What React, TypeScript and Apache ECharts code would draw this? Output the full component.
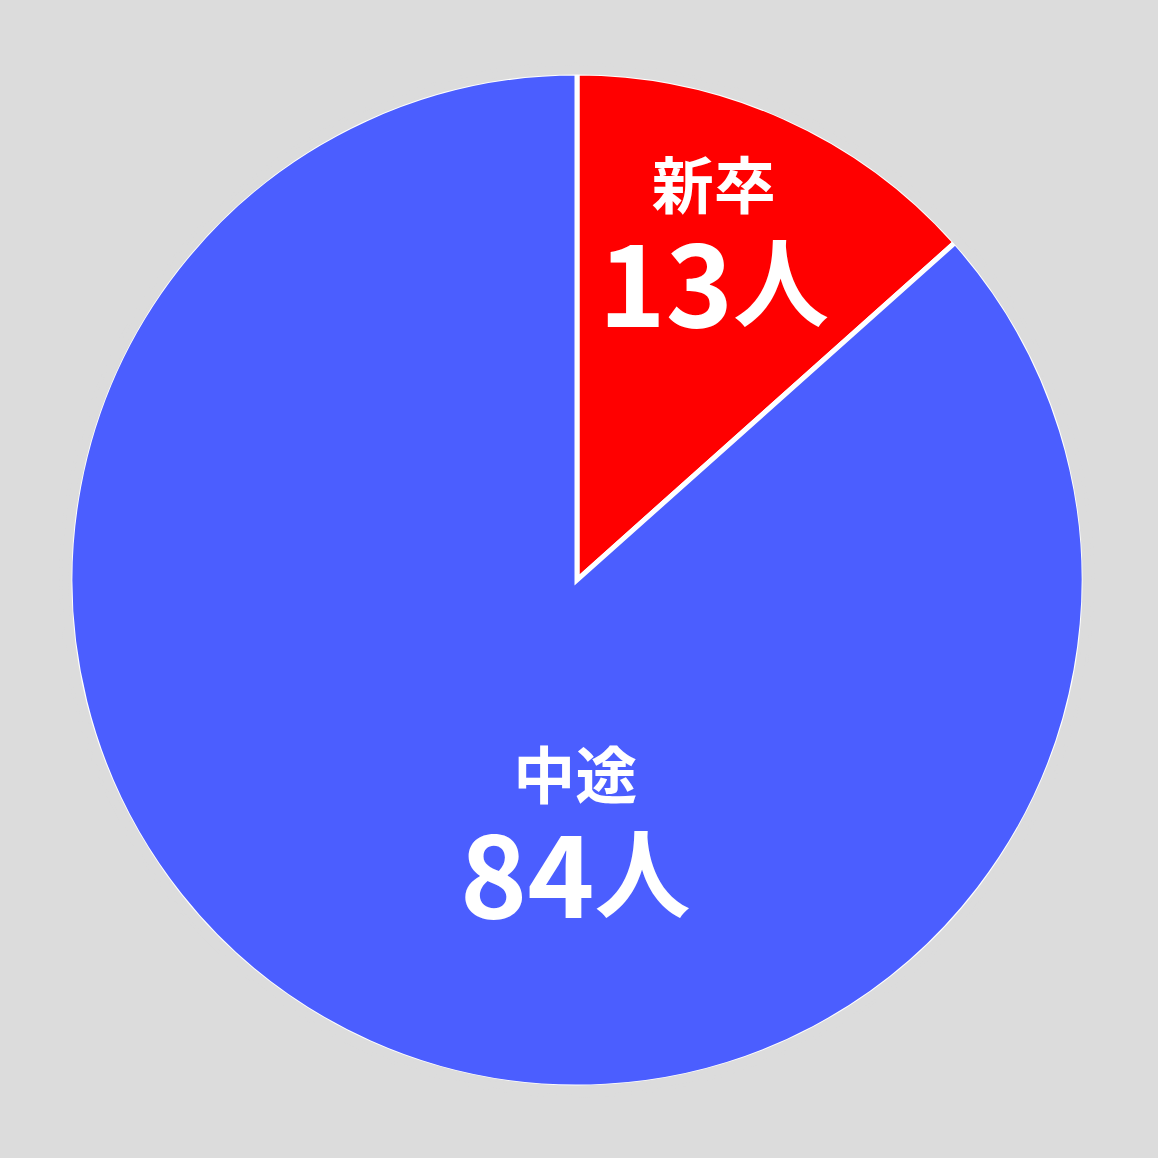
import React, { useEffect, useRef } from "react";
import * as echarts from "echarts";

// 採用内訳
const categories = ["新卒", "中途"];
const values = [13, 84];
const unit = "人";
const colors = ["#ff0000", "#4b5eff"];
// ラベル位置の微調整 (inside の既定位置からのずれ)
const labelOffsets = [
  [32, -102],
  [103, 20],
];

const BG = "#dcdcdc";

const App: React.FC = () => {
  const chartRef = useRef<HTMLDivElement>(null);

  useEffect(() => {
    const chart = echarts.init(chartRef.current!, undefined, { renderer: "svg" });

    const data = categories.map((name, i) => ({
      name,
      value: values[i],
      itemStyle: { color: colors[i] },
      label: { offset: labelOffsets[i] },
    }));

    const textBase = {
      color: "#ffffff",
      fontFamily: "Noto Sans CJK JP",
      fontWeight: "bold",
    };

    chart.setOption({
      animation: false,
      backgroundColor: BG,
      series: [
        {
          type: "pie",
          center: [577, 580],
          radius: 507,
          startAngle: 90,
          clockwise: true,
          data,
          itemStyle: {
            borderColor: "#ffffff",
            borderWidth: 5,
            borderJoin: "miter",
          },
          label: {
            show: true,
            position: "inside",
            formatter: (p: any) => `{name|${p.name}}\n{num|${p.value}}{unit|${unit}}`,
            rich: {
              name: { ...textBase, fontSize: 62, lineHeight: 68, align: "center" },
              num: { ...textBase, fontSize: 114, lineHeight: 124 },
              unit: { ...textBase, fontSize: 96, lineHeight: 124 },
            },
          },
          labelLine: { show: false },
          emphasis: { disabled: true },
        },
        {
          // 外周の白い縁を背景色で隠す
          type: "pie",
          center: [577, 580],
          radius: [507, 516],
          silent: true,
          data: [{ value: 1, itemStyle: { color: BG, borderColor: BG, borderWidth: 3 } }],
          label: { show: false },
          labelLine: { show: false },
          emphasis: { disabled: true },
        },
      ],
    });

    return () => {
      chart.dispose();
    };
  }, []);

  return (
    <div
      ref={chartRef}
      style={{ position: "fixed", left: 0, top: 0, width: "1158px", height: "1158px" }}
    />
  );
};

export default App;
